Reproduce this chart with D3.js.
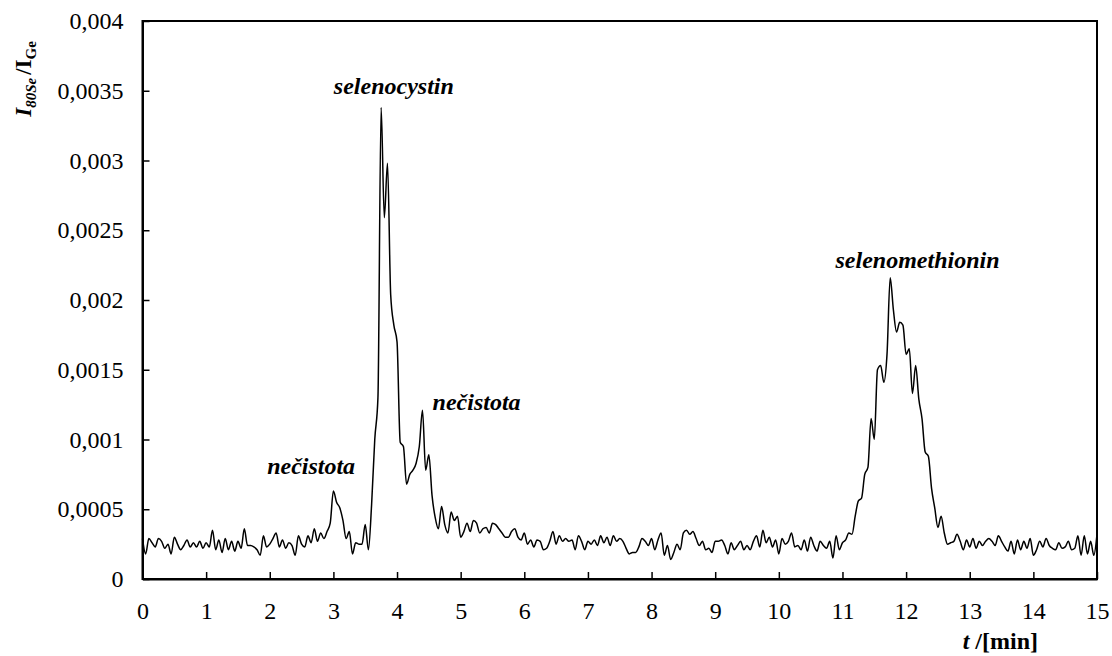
<!DOCTYPE html>
<html>
<head>
<meta charset="utf-8">
<script src="https://cdn.jsdelivr.net/npm/d3@7"></script>
<style>
  body { margin: 0; background: #fff; }
  svg { display: block; }
</style>
</head>
<body>
<svg id="chart" width="1112" height="656" font-family="Liberation Serif"></svg>
<script>
// one reading every 0.05 min, from 0 to 15 min
const sampleStep = 0.05

// I(80Se)/I(Ge), in units of 1e-4
const signalE4 = [
  // 0 - 1 min
  2.9, 1.8, 2.9, 2.6, 2.3, 2.9, 2.7, 2.2, 2.5, 1.8, 3.0, 2.5, 2.1, 2.4, 2.8, 2.3, 2.6, 2.3, 2.7, 2.2,
  // 1 - 2
  2.6, 2.3, 3.5, 2.1, 2.8, 1.9, 2.9, 2.1, 2.7, 2.0, 2.7, 2.2, 3.6, 2.4, 2.4, 2.3, 2.1, 1.7, 3.1, 2.3,
  // 2 - 3
  2.5, 2.9, 3.3, 2.3, 2.8, 2.2, 2.6, 2.4, 1.7, 3.1, 2.5, 2.3, 3.1, 2.6, 3.6, 2.7, 3.3, 2.9, 3.4, 4.0,
  // 3 - 4 (impurity + selenocystine)
  6.3, 5.5, 5.1, 4.2, 2.9, 3.4, 1.8, 2.6, 2.5, 2.5, 3.9, 2.1, 5.3, 10.0, 13.0, 33.8, 25.9, 29.8, 20.4, 18.2,
  // 4 - 5 (impurity)
  17.0, 9.8, 9.5, 6.8, 7.5, 7.8, 8.3, 9.5, 12.1, 7.8, 8.9, 6.0, 4.4, 3.6, 5.2, 3.9, 3.3, 4.8, 4.2, 4.5,
  // 5 - 6
  3.0, 3.4, 4.0, 3.4, 4.2, 4.0, 3.3, 3.6, 3.7, 3.3, 4.0, 3.9, 3.6, 3.3, 3.0, 3.0, 3.4, 3.6, 3.0, 2.8,
  // 6 - 7
  3.3, 2.5, 2.8, 2.3, 2.8, 2.7, 2.1, 2.2, 2.7, 3.4, 2.5, 3.1, 2.7, 2.9, 2.7, 2.8, 2.1, 3.1, 2.7, 2.1,
  // 7 - 8
  2.7, 2.5, 2.8, 2.4, 3.1, 2.6, 3.0, 2.4, 3.1, 2.7, 2.9, 2.7, 2.2, 1.8, 1.9, 1.9, 2.3, 2.9, 2.7, 2.4,
  // 8 - 9
  2.9, 2.1, 2.8, 3.3, 1.7, 2.4, 1.4, 1.9, 2.5, 2.1, 3.3, 3.5, 3.2, 3.4, 2.9, 2.4, 2.7, 2.1, 2.2, 1.9,
  // 9 - 10
  2.7, 2.7, 2.8, 2.4, 1.8, 2.6, 2.1, 2.4, 2.7, 2.1, 2.4, 2.1, 2.7, 3.1, 2.3, 3.5, 2.6, 3.0, 2.3, 2.8,
  // 10 - 11
  1.8, 2.9, 2.5, 2.7, 3.3, 2.3, 2.4, 2.1, 2.8, 2.0, 3.0, 2.4, 2.0, 2.7, 2.4, 2.2, 2.7, 1.5, 3.1, 2.1,
  // 11 - 12 (selenomethionine)
  2.6, 2.8, 3.3, 3.2, 4.5, 5.6, 5.8, 7.5, 8.0, 11.5, 10.0, 15.0, 15.3, 14.1, 16.1, 21.6, 19.3, 17.7, 18.4, 18.2,
  // 12 - 13
  16.1, 16.5, 13.3, 15.3, 12.9, 11.5, 9.1, 8.8, 6.5, 5.1, 3.7, 4.5, 3.3, 2.5, 2.6, 2.7, 3.2, 2.7, 2.1, 2.8,
  // 13 - 14
  2.3, 2.9, 2.2, 2.7, 2.4, 2.7, 2.9, 2.7, 2.4, 3.1, 2.7, 2.3, 2.0, 2.7, 1.8, 2.8, 2.1, 2.7, 2.2, 2.9,
  // 14 - 15
  1.7, 2.1, 2.7, 2.3, 2.9, 2.4, 2.2, 2.1, 2.6, 2.2, 2.3, 2.7, 2.1, 2.2, 3.1, 1.7, 3.1, 1.8, 2.7, 1.7,
  3.2
]

const xTicks = d3.range(0, 16)
const yTicks = [0, 0.0005, 0.001, 0.0015, 0.002, 0.0025, 0.003, 0.0035, 0.004]

// peak names and where they sit (time, signal of the text baseline)
const peakNames = ['nečistota', 'selenocystin', 'nečistota', 'selenomethionin']
const peakNameAt = [[2.65, 0.00075], [3.95, 0.00348], [5.25, 0.00121], [12.18, 0.00223]]

const data = signalE4.map((v, i) => ({ t: i * sampleStep, v: v / 1e4 }))

const serif = '"Liberation Serif"'

const svg = d3.select('#chart')
const margin = { top: 21, right: 15, bottom: 77, left: 142.5 }
const width = 1112
const height = 656

const x = d3.scaleLinear().domain([0, 15]).range([margin.left, width - margin.right])
const y = d3.scaleLinear().domain([0, 0.004]).range([height - margin.bottom, margin.top])

const fmt = d => d === 0 ? '0' : String(+d.toFixed(4)).replace('.', ',')

// frame
svg.append('rect')
  .attr('x', x(0))
  .attr('y', y(0.004))
  .attr('width', x(15) - x(0))
  .attr('height', y(0) - y(0.004))
  .attr('fill', 'none')
  .attr('stroke', '#000')
  .attr('stroke-width', 2)

const xAxis = d3.axisBottom(x)
  .tickValues(xTicks)
  .tickSizeInner(-7)
  .tickSizeOuter(0)
  .tickPadding(23)
  .tickFormat(d3.format('d'))

const yAxis = d3.axisLeft(y)
  .tickValues(yTicks)
  .tickSizeInner(-7)
  .tickSizeOuter(0)
  .tickPadding(19)
  .tickFormat(fmt)

const gx = svg.append('g')
  .attr('transform', `translate(0, ${y(0)})`)
  .call(xAxis)

const gy = svg.append('g')
  .attr('transform', `translate(${x(0)}, 0)`)
  .call(yAxis)

for (const g of [gx, gy]) {
  g.attr('font-family', null).attr('font-size', null)
  g.select('.domain').attr('stroke-width', 2)
  g.selectAll('.tick line').attr('stroke-width', 1.5)
  g.selectAll('.tick text')
    .style('font-family', serif)
    .style('font-size', '24px')
    .attr('fill', '#000')
}

const line = d3.line()
  .x(d => x(d.t))
  .y(d => y(d.v))
  .curve(d3.curveMonotoneX)

svg.append('path')
  .datum(data)
  .attr('fill', 'none')
  .attr('stroke', '#000')
  .attr('stroke-width', 1.5)
  .attr('stroke-linejoin', 'round')
  .attr('d', line)

svg.selectAll('text.peak')
  .data(peakNames)
  .join('text')
  .attr('class', 'peak')
  .attr('x', (d, i) => x(peakNameAt[i][0]))
  .attr('y', (d, i) => y(peakNameAt[i][1]))
  .attr('text-anchor', 'middle')
  .style('font-family', serif)
  .style('font-size', '24px')
  .style('font-weight', 'bold')
  .style('font-style', 'italic')
  .text(d => d)

// y title: I80Se / IGe
const yTitle = svg.append('text')
  .attr('transform', 'translate(31, 79) rotate(-90)')
  .attr('text-anchor', 'middle')
  .style('font-family', serif)
  .style('font-size', '23px')
  .style('font-weight', 'bold')
yTitle.append('tspan').style('font-style', 'italic').text('I')
yTitle.append('tspan').style('font-style', 'italic').style('font-size', '15px').attr('dy', 5).text('80Se')
yTitle.append('tspan').attr('dy', -5).attr('dx', 3).text('/I')
yTitle.append('tspan').style('font-size', '15px').attr('dy', 5).text('Ge')

// x title: t /[min]
const xTitle = svg.append('text')
  .attr('x', 1038)
  .attr('y', 649)
  .attr('text-anchor', 'end')
  .style('font-family', serif)
  .style('font-size', '24px')
  .style('font-weight', 'bold')
xTitle.append('tspan').style('font-style', 'italic').text('t')
xTitle.append('tspan').text(' /[min]')
</script>
</body>
</html>
